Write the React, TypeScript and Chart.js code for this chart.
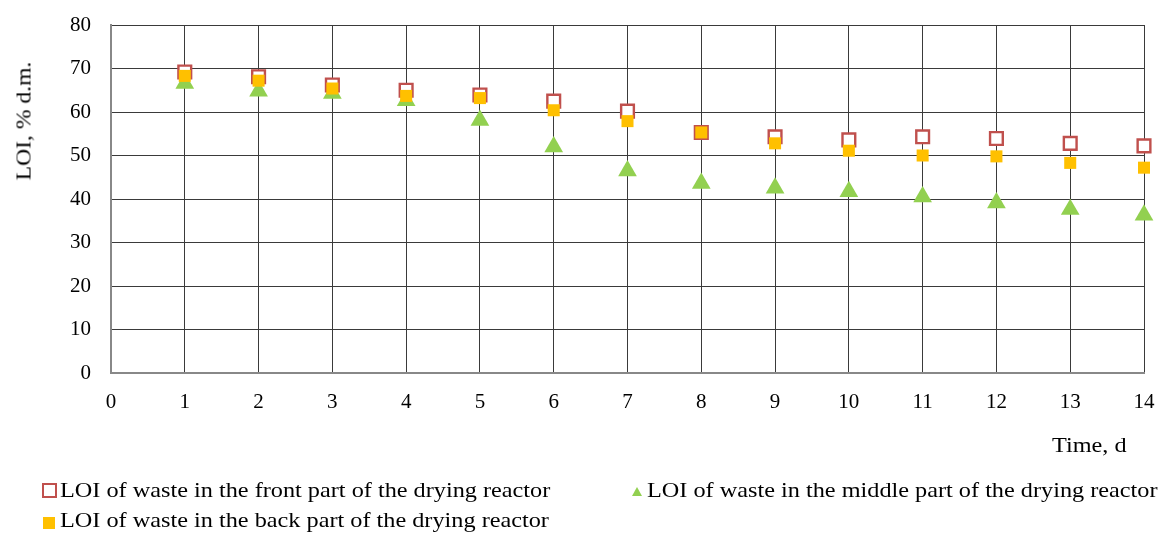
import React, { useEffect, useRef } from "react";
import { Chart, registerables } from "chart.js";

Chart.register(...registerables);

const days = [1, 2, 3, 4, 5, 6, 7, 8, 9, 10, 11, 12, 13, 14];
const frontLOI = [69.2, 68.1, 66.2, 65.0, 63.9, 62.5, 60.2, 55.3, 54.3, 53.6, 54.3, 53.9, 52.8, 52.2];
const middleLOI = [66.6, 64.8, 64.3, 62.6, 58.1, 52.0, 46.5, 43.6, 42.5, 41.7, 40.5, 39.1, 37.6, 36.3];
const backLOI = [68.3, 67.2, 65.4, 63.7, 63.2, 60.4, 57.9, 55.3, 52.8, 51.1, 50.0, 49.8, 48.3, 47.2];
const seriesNames = [
  "LOI of waste in the front part of the drying reactor",
  "LOI of waste in the middle part of the drying reactor",
  "LOI of waste in the back part of the drying reactor",
];
const yTitle = "LOI, % d.m.";
const xTitle = "Time, d";

const FONT = "'Liberation Serif', 'Times New Roman', serif";
const RED = "#C0504D";
const GREEN = "#92D050";
const YELLOW = "#FFC000";

export default function App() {
  const ref = useRef<HTMLCanvasElement | null>(null);

  useEffect(() => {
    if (!ref.current) return;
    const toPts = (vals: number[]) => days.map((d, i) => ({ x: d, y: vals[i] }));
    const chart = new Chart(ref.current, {
      type: "scatter",
      data: {
        datasets: [
          {
            label: seriesNames[0],
            data: toPts(frontLOI),
            pointStyle: "rect",
            pointRadius: 9,
            pointBorderWidth: 2.4,
            borderColor: RED,
            backgroundColor: "#ffffff",
            order: 2,
            clip: false,
          },
          {
            label: seriesNames[1],
            data: toPts(middleLOI),
            pointStyle: "triangle",
            pointRadius: 10.8,
            pointBorderWidth: 0,
            borderColor: GREEN,
            backgroundColor: GREEN,
            order: 3,
            clip: false,
          },
          {
            label: seriesNames[2],
            data: toPts(backLOI),
            pointStyle: "rect",
            pointRadius: 8.5,
            pointBorderWidth: 0,
            borderColor: YELLOW,
            backgroundColor: YELLOW,
            order: 1,
            clip: false,
          },
        ],
      },
      options: {
        animation: false,
        responsive: false,
        maintainAspectRatio: false,
        layout: { padding: { top: 25, right: 17, bottom: 0, left: 0 } },
        plugins: { legend: { display: false }, tooltip: { enabled: false } },
        scales: {
          x: {
            type: "linear",
            min: 0,
            max: 14,
            ticks: { stepSize: 1, color: "#000", font: { family: FONT, size: 21 }, padding: 17 },
            grid: { color: "#3a3a3a", lineWidth: 1, drawTicks: false },
            border: { color: "#888888", width: 2 },
            afterFit: (s: any) => {
              s.height = 161;
              s.paddingLeft = 0;
              s.paddingRight = 0;
            },
          },
          y: {
            min: 0,
            max: 80,
            ticks: { stepSize: 10, color: "#000", font: { family: FONT, size: 21 }, padding: 20 },
            grid: { color: "#3a3a3a", lineWidth: 1, drawTicks: false },
            border: { color: "#888888", width: 2 },
            afterFit: (s: any) => {
              s.width = 111;
              s.paddingTop = 0;
              s.paddingBottom = 0;
            },
          },
        },
      },
    });
    return () => chart.destroy();
  }, []);

  const textStyle: React.CSSProperties = {
    position: "absolute",
    fontFamily: FONT,
    fontSize: 21,
    lineHeight: "21px",
    color: "#000",
    whiteSpace: "nowrap",
    transformOrigin: "0 50%",
    transform: "scaleX(1.155)",
  };

  return (
    <div style={{ position: "relative", width: 1161, height: 534, overflow: "hidden" }}>
      <style>{"html,body{margin:0;padding:0;}"}</style>
      <canvas ref={ref} width={1161} height={534} style={{ display: "block" }} />
      <div
        style={{
          ...textStyle,
          left: 24,
          top: 121,
          transformOrigin: "50% 50%",
          transform: "translate(-50%, -50%) rotate(-90deg) scaleX(1.125)",
        }}
      >
        {yTitle}
      </div>
      <div style={{ ...textStyle, left: 1052, top: 434.5 }}>{xTitle}</div>
      {/* legend */}
      <div
        style={{
          position: "absolute",
          left: 42,
          top: 483,
          width: 15,
          height: 15,
          boxSizing: "border-box",
          border: `2.6px solid ${RED}`,
          background: "#fff",
        }}
      />
      <div style={{ ...textStyle, left: 59.5, top: 479.7 }}>{seriesNames[0]}</div>
      <div
        style={{
          position: "absolute",
          left: 632,
          top: 487,
          width: 0,
          height: 0,
          borderLeft: "5px solid transparent",
          borderRight: "5px solid transparent",
          borderBottom: `9px solid ${GREEN}`,
        }}
      />
      <div style={{ ...textStyle, left: 646.5, top: 479.7 }}>{seriesNames[1]}</div>
      <div
        style={{
          position: "absolute",
          left: 43,
          top: 517,
          width: 12,
          height: 12,
          background: YELLOW,
        }}
      />
      <div style={{ ...textStyle, left: 60, top: 509.7 }}>{seriesNames[2]}</div>
    </div>
  );
}
